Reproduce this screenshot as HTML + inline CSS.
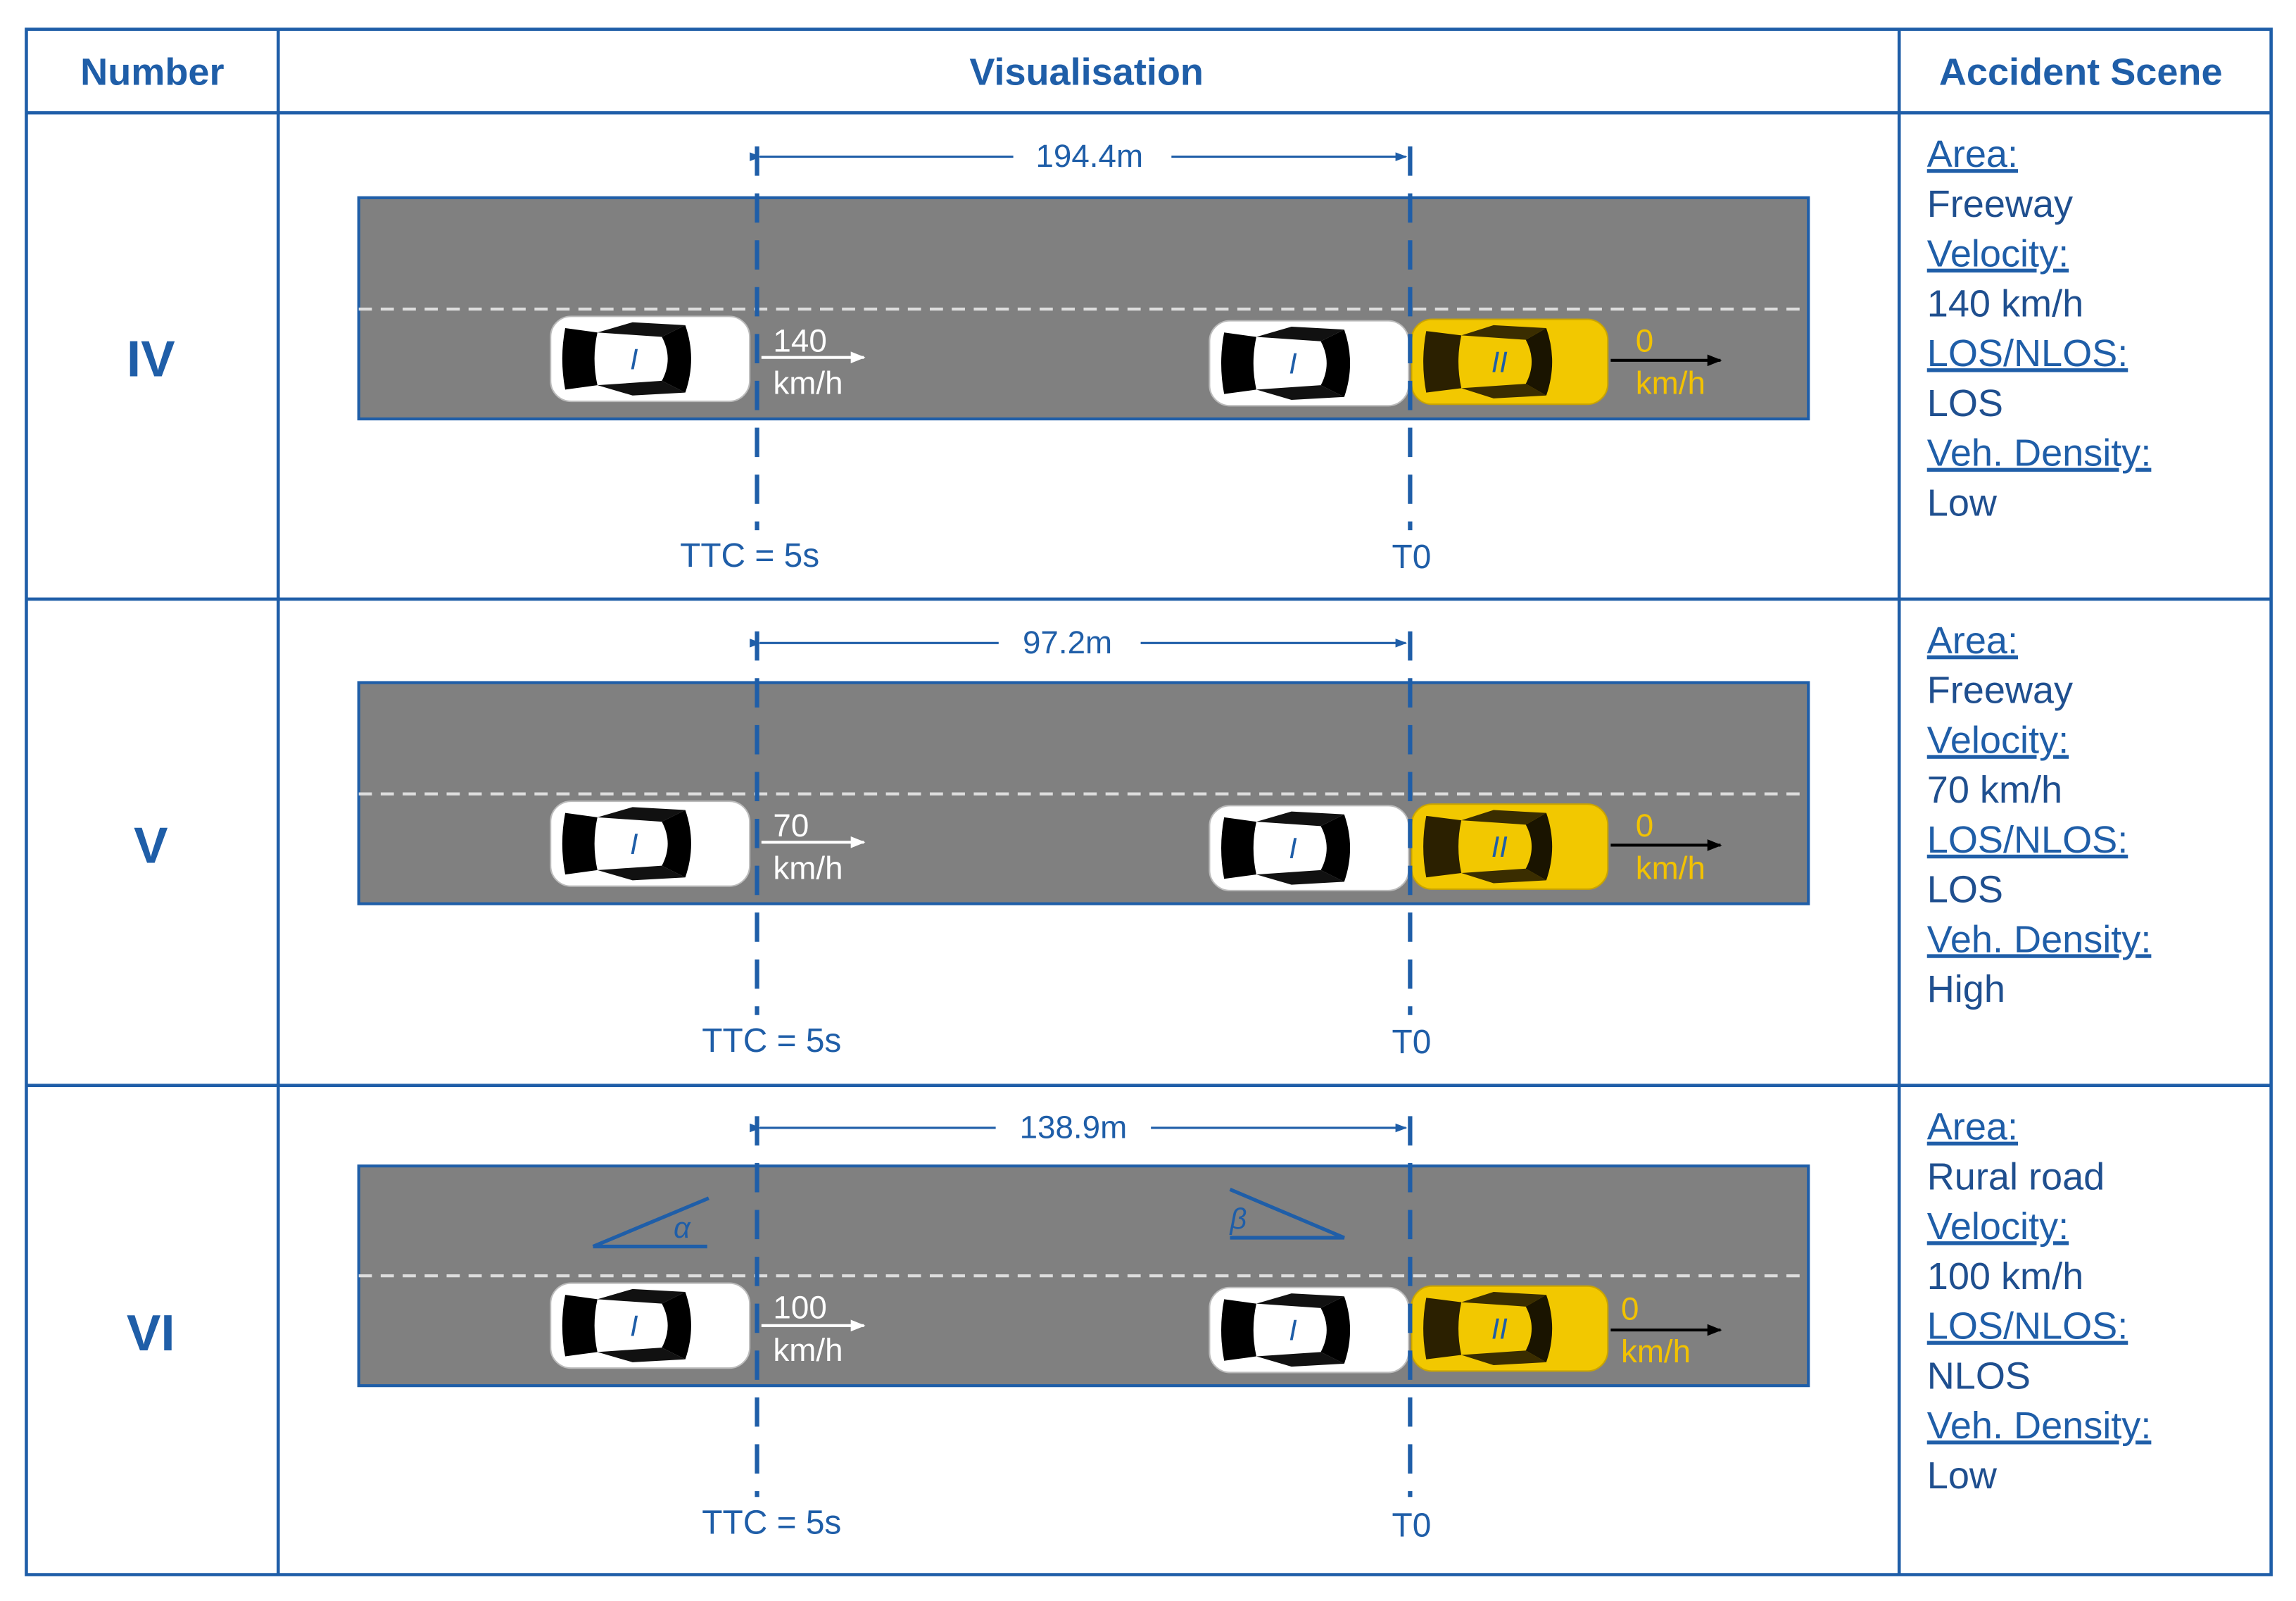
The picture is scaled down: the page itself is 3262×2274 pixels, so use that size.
<!DOCTYPE html>
<html><head><meta charset="utf-8"><style>
html,body{margin:0;padding:0;background:#fff;}
svg{display:block;}
text{font-family:"Liberation Sans",Arial,sans-serif;}
</style></head><body>
<svg width="3262" height="2274" viewBox="0 0 1568 1093" preserveAspectRatio="none" xmlns="http://www.w3.org/2000/svg">
<defs>
<g id="wcar">
  <rect x="0" y="0" width="136" height="58" rx="14" fill="#fff" stroke="#bbb" stroke-width="1"/>
  <path d="M10 8 Q6 29 10 50 L32 47 Q28 29 32 11 Z" fill="#000"/>
  <path d="M32 11 L56 4 L92 6 L76 14 Z" fill="#111"/>
  <path d="M32 47 L56 54 L92 52 L76 44 Z" fill="#111"/>
  <path d="M76 14 Q84 29 76 44 L92 52 Q100 29 92 6 Z" fill="#000"/>
  <text x="57" y="36" font-family="Liberation Serif,serif" font-style="italic" font-size="20" fill="#1f5ea8" text-anchor="middle">I</text>
</g>
<g id="ycar">
  <rect x="0" y="0" width="134" height="58" rx="14" fill="#f2c800" stroke="#c9a400" stroke-width="1"/>
  <path d="M10 8 Q6 29 10 50 L34 47 Q30 29 34 11 Z" fill="#2b2000"/>
  <path d="M34 11 L56 4 L92 6 L78 14 Z" fill="#3a2d00"/>
  <path d="M34 47 L56 54 L92 52 L78 44 Z" fill="#3a2d00"/>
  <path d="M78 14 Q86 29 78 44 L92 52 Q100 29 92 6 Z" fill="#1a1400"/>
  <text x="60" y="36" font-family="Liberation Serif,serif" font-style="italic" font-size="20" fill="#1f5ea8" text-anchor="middle">II</text>
</g>
<marker id="ab" markerWidth="8" markerHeight="8" refX="7" refY="4" orient="auto" markerUnits="userSpaceOnUse"><path d="M0 1 L8 4 L0 7 Z" fill="#1f5ea8"/></marker>
<marker id="aw" markerWidth="10" markerHeight="10" refX="9" refY="5" orient="auto" markerUnits="userSpaceOnUse"><path d="M0 1 L10 5 L0 9 Z" fill="#fff"/></marker>
<marker id="ak" markerWidth="10" markerHeight="10" refX="9" refY="5" orient="auto" markerUnits="userSpaceOnUse"><path d="M0 1 L10 5 L0 9 Z" fill="#000"/></marker>
</defs>

<g stroke="#1f5ea8" stroke-width="2.2" fill="none">
<rect x="18" y="20" width="1533" height="1055"/>
<line x1="190" y1="20" x2="190" y2="1075"/>
<line x1="1297" y1="20" x2="1297" y2="1075"/>
<line x1="18" y1="77" x2="1551" y2="77"/>
<line x1="18" y1="409" x2="1551" y2="409"/>
<line x1="18" y1="741" x2="1551" y2="741"/>
</g>
<g fill="#1f5ea8" font-weight="bold" font-size="26" text-anchor="middle">
<text x="104" y="58">Number</text>
<text x="742" y="58">Visualisation</text>
<text x="1421" y="58">Accident Scene</text>
<text x="103" y="257" font-size="35">IV</text>
<text x="103" y="589" font-size="35">V</text>
<text x="103" y="922" font-size="35">VI</text>
</g>

<g id="r1">
<rect x="245" y="135" width="990" height="151" fill="#808080" stroke="#1f5ea8" stroke-width="2"/>
<line x1="245" y1="211" x2="1235" y2="211" stroke="#ddd" stroke-width="2" stroke-dasharray="9,6"/>
<use href="#wcar" x="376" y="216"/>
<use href="#wcar" x="826" y="219"/>
<use href="#ycar" x="964" y="218"/>
<line x1="517" y1="100" x2="517" y2="362" stroke="#1f5ea8" stroke-width="3" stroke-dasharray="20,12"/>
<line x1="963" y1="100" x2="963" y2="362" stroke="#1f5ea8" stroke-width="3" stroke-dasharray="20,12"/>
<line x1="520" y1="244" x2="590" y2="244" stroke="#fff" stroke-width="2" marker-end="url(#aw)"/>
<line x1="1100" y1="246" x2="1175" y2="246" stroke="#000" stroke-width="2" marker-end="url(#ak)"/>
</g>
<use href="#r1" y="331"/>
<g stroke="#1f5ea8" stroke-width="1.5">
<line x1="519" y1="107" x2="692" y2="107" marker-start="url(#ab)"/>
<line x1="800" y1="107" x2="960" y2="107" marker-end="url(#ab)"/>
<line x1="519" y1="439" x2="682" y2="439" marker-start="url(#ab)"/>
<line x1="779" y1="439" x2="960" y2="439" marker-end="url(#ab)"/>
</g>
<g>
<rect x="245" y="796" width="990" height="150" fill="#808080" stroke="#1f5ea8" stroke-width="2"/>
<line x1="245" y1="871" x2="1235" y2="871" stroke="#ddd" stroke-width="2" stroke-dasharray="9,6"/>
<use href="#wcar" x="376" y="876"/>
<use href="#wcar" x="826" y="879"/>
<use href="#ycar" x="964" y="878"/>
<line x1="517" y1="762" x2="517" y2="1022" stroke="#1f5ea8" stroke-width="3" stroke-dasharray="20,12"/>
<line x1="963" y1="762" x2="963" y2="1022" stroke="#1f5ea8" stroke-width="3" stroke-dasharray="20,12"/>
<line x1="519" y1="770" x2="680" y2="770" stroke="#1f5ea8" stroke-width="1.5" marker-start="url(#ab)"/>
<line x1="786" y1="770" x2="960" y2="770" stroke="#1f5ea8" stroke-width="1.5" marker-end="url(#ab)"/>
<line x1="520" y1="905" x2="590" y2="905" stroke="#fff" stroke-width="2" marker-end="url(#aw)"/>
<line x1="1100" y1="908" x2="1175" y2="908" stroke="#000" stroke-width="2" marker-end="url(#ak)"/>
<path d="M405 851 L484 818 M405 851 L483 851" stroke="#1f5ea8" stroke-width="2.5" fill="none"/>
<path d="M840 812 L918 845 L840 845" stroke="#1f5ea8" stroke-width="2.5" fill="none"/>
<text x="460" y="845" font-family="Liberation Serif,serif" font-style="italic" font-size="20" fill="#1f5ea8">α</text>
<text x="840" y="839" font-family="Liberation Serif,serif" font-style="italic" font-size="20" fill="#1f5ea8">β</text>
</g>

<g fill="#1f5ea8" font-size="22" text-anchor="middle">
<text x="744" y="114">194.4m</text>
<text x="729" y="446">97.2m</text>
<text x="733" y="777">138.9m</text>
</g>
<g fill="#1f5ea8" font-size="23" text-anchor="middle">
<text x="512" y="387">TTC = 5s</text>
<text x="964" y="388">T0</text>
<text x="527" y="718">TTC = 5s</text>
<text x="964" y="719">T0</text>
<text x="527" y="1047">TTC = 5s</text>
<text x="964" y="1049">T0</text>
</g>
<g fill="#fff" font-size="22">
<text x="528" y="240">140</text><text x="528" y="269">km/h</text>
<text x="528" y="571">70</text><text x="528" y="600">km/h</text>
<text x="528" y="900">100</text><text x="528" y="929">km/h</text>
</g>
<g fill="#f2c200" font-size="22">
<text x="1117" y="240">0</text><text x="1117" y="269">km/h</text>
<text x="1117" y="571">0</text><text x="1117" y="600">km/h</text>
<text x="1107" y="901">0</text><text x="1107" y="930">km/h</text>
</g>

<g font-size="26" fill="#1f4f8f">
<g text-decoration="underline" fill="#1f5ea8">
<text x="1316" y="114">Area:</text><text x="1316" y="182">Velocity:</text><text x="1316" y="250">LOS/NLOS:</text><text x="1316" y="318">Veh. Density:</text>
<text x="1316" y="446">Area:</text><text x="1316" y="514">Velocity:</text><text x="1316" y="582">LOS/NLOS:</text><text x="1316" y="650">Veh. Density:</text>
<text x="1316" y="778">Area:</text><text x="1316" y="846">Velocity:</text><text x="1316" y="914">LOS/NLOS:</text><text x="1316" y="982">Veh. Density:</text>
</g>
<text x="1316" y="148">Freeway</text><text x="1316" y="216">140 km/h</text><text x="1316" y="284">LOS</text><text x="1316" y="352">Low</text>
<text x="1316" y="480">Freeway</text><text x="1316" y="548">70 km/h</text><text x="1316" y="616">LOS</text><text x="1316" y="684">High</text>
<text x="1316" y="812">Rural road</text><text x="1316" y="880">100 km/h</text><text x="1316" y="948">NLOS</text><text x="1316" y="1016">Low</text>
</g>
</svg>
</body></html>
